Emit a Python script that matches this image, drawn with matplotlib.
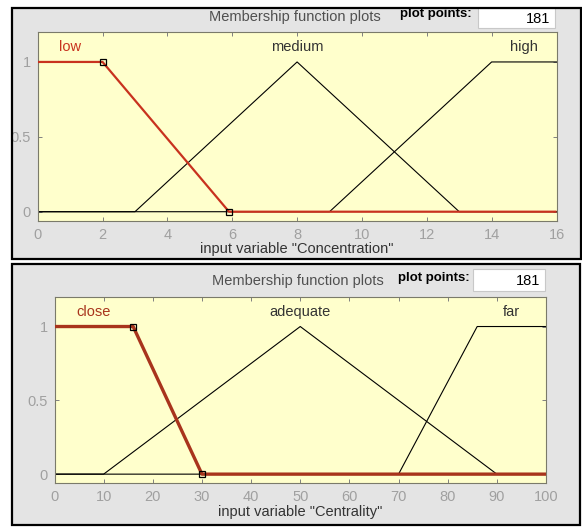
import matplotlib
matplotlib.use("Agg")
import matplotlib.pyplot as plt
from matplotlib.patches import Rectangle

plt.rcParams['font.family'] = ['Liberation Sans', 'DejaVu Sans']

# ---- data: membership function breakpoints ----
conc_names = ["low", "medium", "high"]
conc_label_x = [1, 8, 15]
conc_low_x = [0, 2, 5.9, 16]
conc_low_y = [1, 1, 0, 0]
conc_med_x = [0, 3, 8, 13, 16]
conc_med_y = [0, 0, 1, 0, 0]
conc_high_x = [0, 9, 14, 16]
conc_high_y = [0, 0, 1, 1]
conc_xticks = [0, 2, 4, 6, 8, 10, 12, 14, 16]

cent_names = ["close", "adequate", "far"]
cent_label_x = [8, 50, 93]
cent_close_x = [0, 16, 30, 100]
cent_close_y = [1, 1, 0, 0]
cent_adeq_x = [0, 10, 50, 90, 100]
cent_adeq_y = [0, 0, 1, 0, 0]
cent_far_x = [0, 70, 86, 100]
cent_far_y = [0, 0, 1, 1]
cent_xticks = [0, 10, 20, 30, 40, 50, 60, 70, 80, 90, 100]

yticks = [0, 0.5, 1]
ytick_labels = ["0", "0.5", "1"]
plot_points = "181"

W, H = 582, 527
fig = plt.figure(figsize=(W / 100, H / 100), dpi=100)
fig.patch.set_facecolor("white")


def fx(x):
    return x / W


def fy(y):
    return 1 - y / H


def frame(x0, y0, x1, y1):
    # gray panel background + black border drawn on top
    fig.patches.append(Rectangle((fx(x0), fy(y1)), (x1 - x0) / W, (y1 - y0) / H,
                                 transform=fig.transFigure, facecolor="#E4E4E4",
                                 edgecolor="none", zorder=-5))
    fig.patches.append(Rectangle((fx(x0), fy(y1)), (x1 - x0) / W, (y1 - y0) / H,
                                 transform=fig.transFigure, facecolor="none",
                                 edgecolor="black", lw=1.6, zorder=10))


def header(cx, ty, px0, box_x0, box_x1, box_y0, box_y1):
    fig.text(fx(cx), fy(ty), "Membership function plots", ha="center", va="center",
             fontsize=10.5, color="#505050")
    fig.text(fx(px0), fy(ty - 3), "plot points:", ha="left", va="center",
             fontsize=9.5, fontweight="bold", color="black")
    fig.patches.append(Rectangle((fx(box_x0), fy(box_y1)), (box_x1 - box_x0) / W,
                                 (box_y1 - box_y0) / H, transform=fig.transFigure,
                                 facecolor="white", edgecolor="#c8c8c8", lw=0.8, zorder=2))
    fig.text(fx(box_x1 - 5), fy((box_y0 + box_y1) / 2 + 1), plot_points, ha="right",
             va="center", fontsize=10.5, color="black", zorder=3)


def mf_axes(rect, xmax, xticks, curves, sel, names, label_x, sel_color, sel_lw, xlabel):
    ax = fig.add_axes(rect)
    ax.set_facecolor("#FFFFCC")
    for cx, cy in curves:
        ax.plot(cx, cy, color="black", lw=0.8, zorder=2)
    sx, sy = sel
    ax.plot(sx, sy, color=sel_color, lw=sel_lw, zorder=3, solid_capstyle="butt")
    ax.plot(sx[1:3], sy[1:3], ls="none", marker="s", ms=5, mfc="none", mec="black",
            mew=0.9, zorder=4)
    for i, nm in enumerate(names):
        ax.text(label_x[i], 1.1, nm, ha="center", va="center", fontsize=10.5,
                color=sel_color if i == 0 else "#333333")
    ax.set_xlim(0, xmax)
    ax.set_ylim(-0.06, 1.2)
    ax.set_xticks(xticks)
    ax.set_yticks(yticks)
    ax.set_yticklabels(ytick_labels)
    ax.tick_params(direction="in", length=3, width=0.7, color="#808080",
                   labelcolor="#a0a0a0", labelsize=10.5, top=True, right=True, pad=5)
    for s in ax.spines.values():
        s.set_color("#7a7a6a")
        s.set_linewidth(0.8)
    ax.set_xlabel(xlabel, fontsize=10.5, color="#333333", labelpad=0.5)
    return ax


# ---- top panel ----
frame(12, 8, 581, 259)
header(295, 17, 400, 478, 555, 8, 28)
mf_axes([fx(37.7), fy(220.7), (556.5 - 37.7) / W, (220.7 - 32) / H], 16, conc_xticks,
        [(conc_med_x, conc_med_y), (conc_high_x, conc_high_y)],
        (conc_low_x, conc_low_y), conc_names, conc_label_x, "#C8321E", 1.6,
        'input variable "Concentration"')

# ---- bottom panel ----
frame(12, 264, 580, 525)
header(298, 281, 398, 473, 545, 269, 291)
mf_axes([fx(54.5), fy(483), (546 - 54.5) / W, (483 - 297) / H], 100, cent_xticks,
        [(cent_adeq_x, cent_adeq_y), (cent_far_x, cent_far_y)],
        (cent_close_x, cent_close_y), cent_names, cent_label_x, "#A8341C", 2.4,
        'input variable "Centrality"')

# white margin left of the panels
fig.patches.append(Rectangle((0, 0), fx(12), 1, transform=fig.transFigure,
                             facecolor="white", edgecolor="none", zorder=9))

fig.savefig("out.png", dpi=100)
